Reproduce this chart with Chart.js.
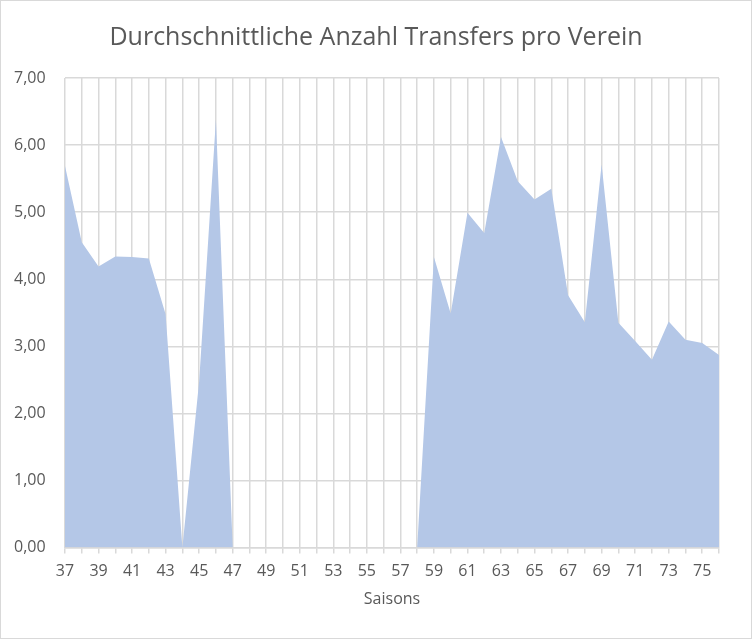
<!DOCTYPE html>
<html>
<head>
<meta charset="utf-8">
<script src="https://cdn.jsdelivr.net/npm/chart.js@4/dist/chart.umd.min.js"></script>
<style>
    html, body { margin: 0; padding: 0; background: #fff; }
    #wrap { width: 752px; height: 639px; box-sizing: border-box; border: 1px solid #d9d9d9; }
</style>
</head>
<body>
<div id="wrap"><canvas id="chart"></canvas></div>
<script>
// Saisons 37 .. 76
const seasons = ['37', '38', '39', '40', '41', '42', '43', '44', '45', '46',
    '47', '48', '49', '50', '51', '52', '53', '54', '55', '56',
    '57', '58', '59', '60', '61', '62', '63', '64', '65', '66',
    '67', '68', '69', '70', '71', '72', '73', '74', '75', '76'];
const avgTransfers = [5.69, 4.55, 4.19, 4.34, 4.33, 4.31, 3.48, 0, 2.48, 6.38,
    0, 0, 0, 0, 0, 0, 0, 0, 0, 0,
    0, 0, 4.33, 3.49, 4.99, 4.69, 6.12, 5.46, 5.19, 5.35,
    3.76, 3.36, 5.71, 3.35, 3.08, 2.80, 3.37, 3.10, 3.05, 2.87];

const GRID = '#d9d9d9';
const TEXT = '#595959';
const FONT = 'Open Sans';

new Chart(document.getElementById('chart'), {
    type: 'line',
    data: {
        labels: seasons,
        datasets: [{
            label: 'Durchschnittliche Anzahl Transfers',
            data: avgTransfers,
            fill: 'origin',
            backgroundColor: '#b4c7e7',
            borderWidth: 0,
            pointRadius: 0,
            tension: 0
        }]
    },
    options: {
        responsive: true,
        maintainAspectRatio: false,
        animation: false,
        layout: { padding: { left: 32, right: 32, top: 0, bottom: 25 } },
        plugins: {
            legend: { display: false },
            tooltip: { enabled: false },
            title: {
                display: true,
                text: 'Durchschnittliche Anzahl Transfers pro Verein',
                color: TEXT,
                font: { size: 25, family: FONT, weight: 'normal' },
                padding: { top: 22, bottom: 25 }
            }
        },
        scales: {
            x: {
                offset: false,
                grid: { color: GRID, lineWidth: 1.5, tickLength: 6, drawTicks: true },
                border: { color: GRID, width: 1.5 },
                ticks: {
                    color: TEXT,
                    font: { size: 16, family: FONT },
                    maxRotation: 0,
                    autoSkip: false,
                    padding: 8,
                    callback: function (v, i) { return i % 2 === 0 ? this.getLabelForValue(v) : ''; }
                },
                title: {
                    display: true,
                    text: 'Saisons',
                    color: TEXT,
                    font: { size: 16, family: FONT },
                    padding: { top: 1, bottom: 4 }
                }
            },
            y: {
                min: 0,
                max: 7,
                grid: { color: GRID, lineWidth: 1.5, drawTicks: false },
                border: { display: false },
                // labels sit left of the plot; axis box kept narrow so the title stays centred
                afterFit: axis => { axis.width = 32; },
                ticks: {
                    stepSize: 1,
                    mirror: true,
                    padding: -51,
                    color: TEXT,
                    font: { size: 16, family: FONT },
                    callback: v => v.toFixed(2).replace('.', ',')
                }
            }
        }
    }
});
</script>
</body>
</html>
